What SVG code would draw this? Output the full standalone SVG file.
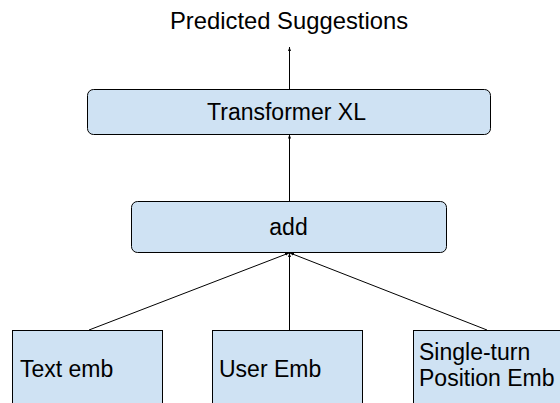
<svg xmlns="http://www.w3.org/2000/svg" width="560" height="403" viewBox="0 0 560 403">
<defs>
<style>
.box{fill:#cfe2f3;stroke:#000;stroke-width:1}
.t{font-family:"Liberation Sans",Arial,sans-serif;font-size:23px;fill:#000}
.c{text-anchor:middle}
.ln{stroke:#000;stroke-width:1;fill:none;marker-end:url(#ah)}
</style>
<marker id="ah" viewBox="0 0 4 4" refX="4" refY="2" markerWidth="4" markerHeight="4" markerUnits="userSpaceOnUse" orient="auto">
<path d="M0,0.5 L4,2 L0,3.5 Z" fill="#000"/>
</marker>
</defs>
<rect width="560" height="403" fill="#fff"/>
<g id="output-label"><text class="t c" x="289" y="29" style="font-size:23.8px">Predicted Suggestions</text></g>
<g id="connectors">
<line class="ln" x1="289.5" y1="89" x2="289.5" y2="47"/>
<line class="ln" x1="289.5" y1="201" x2="289.5" y2="134.5"/>
<line class="ln" x1="89" y1="330" x2="289" y2="253"/>
<line class="ln" x1="289.5" y1="330" x2="289.5" y2="253"/>
<line class="ln" x1="487" y1="330" x2="290" y2="253"/>
</g>
<g id="transformer"><rect class="box" x="87.5" y="89.5" width="403" height="45" rx="6"/><text class="t c" x="286.5" y="120">Transformer XL</text></g>
<g id="add"><rect class="box" x="131.5" y="201.5" width="315" height="51" rx="6"/><text class="t c" x="288.5" y="235">add</text></g>
<g id="text-emb"><rect class="box" x="12.5" y="330.5" width="150" height="80"/><text class="t" x="20" y="377">Text emb</text></g>
<g id="user-emb"><rect class="box" x="212.5" y="330.5" width="150" height="80"/><text class="t" x="219" y="377">User Emb</text></g>
<g id="position-emb"><rect class="box" x="413.5" y="330.5" width="155" height="80"/><text class="t" x="419" y="360">Single-turn</text><text class="t" x="419" y="386">Position Emb</text></g>
</svg>
